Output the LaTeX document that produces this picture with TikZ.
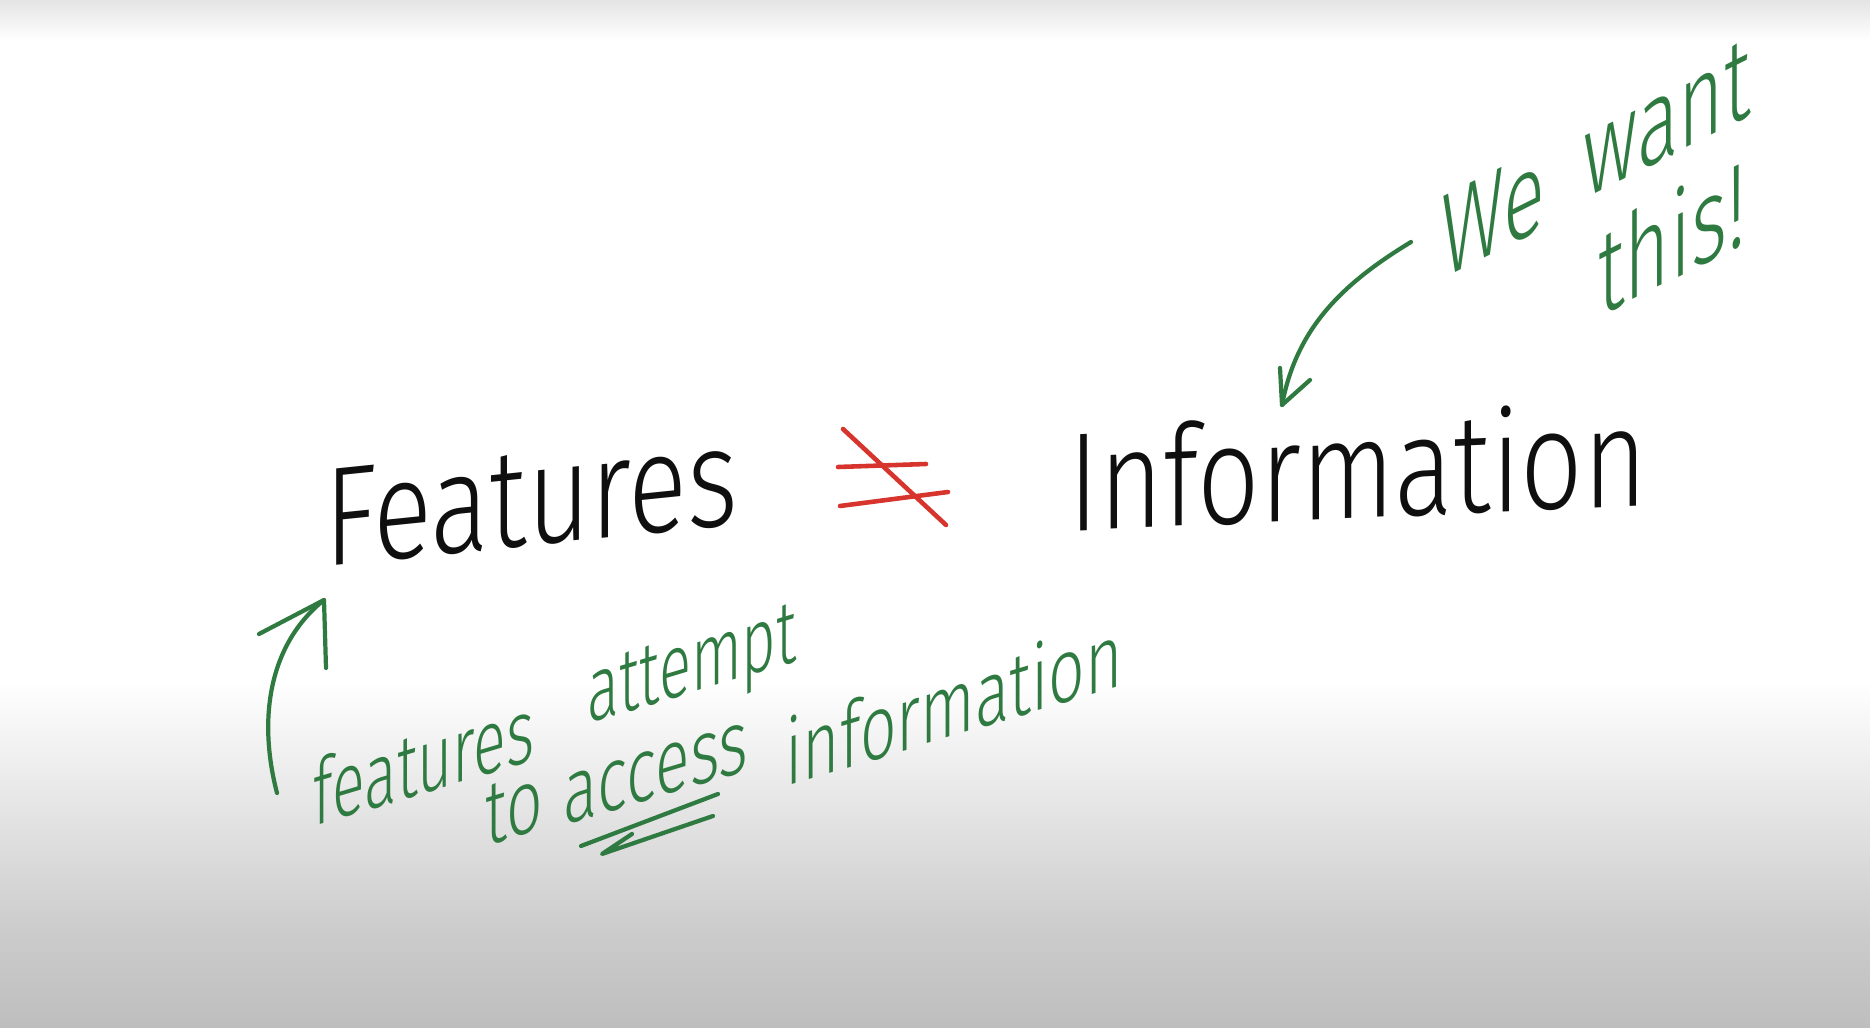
\documentclass[tikz,border=0pt]{standalone}
\usepackage{fontspec}
\IfFontExistsTF{Fira Sans Light}{\setmainfont{Fira Sans Light}}{\setmainfont{Fira Sans}}
\definecolor{penG}{RGB}{46,122,64}
\definecolor{penR}{RGB}{214,52,44}
\definecolor{ink}{RGB}{15,15,15}
\definecolor{bgA}{RGB}{203,203,203}
\definecolor{bgB}{RGB}{190,190,190}
\definecolor{bgT}{RGB}{228,228,228}
\tikzset{
  bigword/.style={inner sep=0pt, text=ink, font=\fontsize{40}{48}\selectfont, xscale=0.78},
  noteword/.style={inner sep=0pt, text=penG, font=\fontsize{26}{30}\selectfont, yslant=0.3, xscale=0.7},
  shoutword/.style={inner sep=0pt, text=penG, font=\fontsize{34}{40}\selectfont, yslant=0.5, xscale=0.65},
  greenpen/.style={draw=penG, line width=1.2pt, line cap=round, line join=round},
  redpen/.style={draw=penR, line width=1.3pt, line cap=round}
}
\begin{document}
\begin{tikzpicture}[x=0.01cm, y=-0.01cm]
\useasboundingbox (0,0) rectangle (1870,1028);
% background
\fill[white] (0,0) rectangle (1870,1028);
\shade[top color=bgT, bottom color=white] (0,0) rectangle (1870,40);
\shade[top color=white, bottom color=bgA] (0,680) rectangle (1870,935);
\shade[top color=bgA, bottom color=bgB] (0,934) rectangle (1870,1028);

% main words
\node[bigword, yslant=0.08] (feat) at (531,498) {Features};
\node[bigword, yslant=0.035] (info) at (1358,466) {Information};

% red not-equal sign
\coordinate (neq) at (892,477);
\draw[redpen] (838,467) -- (926,464);
\draw[redpen] (840,506) -- (948,492);
\draw[redpen] (843,429) -- (946,525);

% top-right note
\node[shoutword] (we) at (1493,213) {We};
\node[shoutword] (want) at (1667,119) {want};
\node[shoutword] (this) at (1672,236) {this!};

\coordinate (a1s) at (1411,242);
\coordinate (a1t) at (1282,405);
\draw[greenpen] (a1s) .. controls (1340,285) and (1296,330) .. (a1t);
\draw[greenpen] (1280,368) -- (a1t) -- (1310,380);

% bottom-left note
\node[noteword, xscale=0.95] (nfeat) at (424,760) {features};
\node[noteword, xscale=0.93] (natt) at (692,672) {attempt};
\node[noteword] (nto) at (514,808) {to};
\node[noteword] (nacc) at (656,774) {access};
\node[noteword] (ninfo) at (954,702) {information};

\coordinate (a2s) at (277,793);
\coordinate (a2t) at (324,600);
\draw[greenpen] (a2s) .. controls (258,720) and (268,645) .. (a2t);
\draw[greenpen] (259,634) -- (a2t) -- (326,668);

% double underline under "access"
\draw[greenpen] (581,846) -- (718,794);
\draw[greenpen] (632,834) -- (602,854) -- (713,816);
\end{tikzpicture}
\end{document}
